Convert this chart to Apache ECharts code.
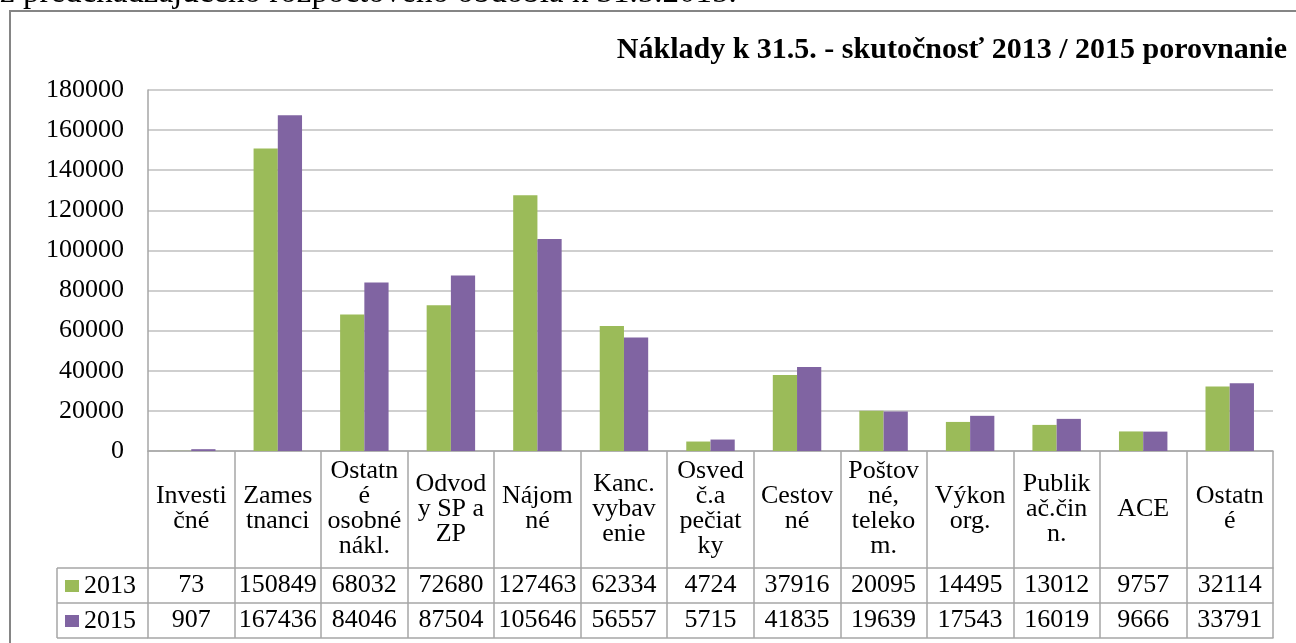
<!DOCTYPE html>
<html>
<head>
<meta charset="utf-8">
<title>Náklady k 31.5.</title>
<script src="https://cdn.jsdelivr.net/npm/echarts@6/dist/echarts.min.js"></script>
<style>
  html, body { margin: 0; padding: 0; background: #fff; }
  #costChart { width: 1296px; height: 643px; }
</style>
</head>
<body>
<div id="costChart"></div>
<script>
// categories as they are wrapped in the table header
var categories = [
  'Investi\nčné', 'Zames\ntnanci', 'Ostatn\né\nosobné\nnákl.', 'Odvod\ny SP a\nZP',
  'Nájom\nné', 'Kanc.\nvybav\nenie', 'Osved\nč.a\npečiat\nky', 'Cestov\nné',
  'Poštov\nné,\nteleko\nm.', 'Výkon\norg.', 'Publik\nač.čin\nn.', 'ACE', 'Ostatn\né'
];
var seriesNames = ['2013', '2015'];
var values2013 = [73, 150849, 68032, 72680, 127463, 62334, 4724, 37916, 20095, 14495, 13012, 9757, 32114];
var values2015 = [907, 167436, 84046, 87504, 105646, 56557, 5715, 41835, 19639, 17543, 16019, 9666, 33791];
// y axis ticks: 0 .. 180000 step 20000
var yMin = 0;
var yMax = 180000;
var yStep = 20000;

var titleText = 'Náklady k 31.5. - skutočnosť 2013 / 2015 porovnanie';
var docLine = 'z predchádzajúceho rozpočtového obdobia k 31.5.2015.';

var serif = "'Liberation Serif', 'Times New Roman', serif";
var lineColor = '#a6a6a6';
var colors = ['#9bbb59', '#8064a2'];

var chartDom = document.getElementById('costChart');
var myChart = echarts.init(chartDom);

// one category axis per table row, stacked under the plot with offset
function tableRow(offset, tickLen, labels) {
  return {
    type: 'category',
    data: categories,
    position: 'bottom',
    offset: offset,
    axisLine: { show: true, lineStyle: { color: lineColor, width: 1.5 } },
    axisTick: { show: tickLen > 0, length: tickLen, interval: 0, lineStyle: { color: lineColor, width: 1.5 } },
    axisLabel: labels ? {
      interval: 0,
      margin: labels.margin,
      verticalAlign: 'middle',
      fontFamily: serif,
      fontSize: 26,
      lineHeight: 25,
      color: '#000',
      formatter: labels.formatter
    } : { show: false },
    splitLine: { show: false }
  };
}

var option = {
  animation: false,
  textStyle: { fontFamily: serif },
  title: {
    text: titleText,
    right: 4,
    top: 30,
    textStyle: { fontFamily: serif, fontWeight: 'bold', fontSize: 30, color: '#000' }
  },
  legend: {
    orient: 'vertical',
    left: 65,
    top: 573,
    padding: 0,
    itemGap: 9,
    itemWidth: 14,
    itemHeight: 12,
    icon: 'rect',
    data: seriesNames,
    textStyle: { fontFamily: serif, fontSize: 26, lineHeight: 26, color: '#000' }
  },
  grid: {
    left: 148,
    right: 23,
    top: 90,
    bottom: 192,
    outerBoundsMode: 'none'
  },
  xAxis: [
    // header row with category names
    tableRow(0, 117, { margin: 58 }),
    // 2013 values
    tableRow(117, 35, { margin: 17.5, formatter: function (v, i) { return String(values2013[i]); } }),
    // 2015 values
    tableRow(152, 35, { margin: 17.5, formatter: function (v, i) { return String(values2015[i]); } }),
    // bottom border of the table
    tableRow(187, 0, null)
  ],
  yAxis: {
    type: 'value',
    min: yMin,
    max: yMax,
    interval: yStep,
    axisLine: { show: true, lineStyle: { color: lineColor, width: 1.5 } },
    axisTick: { show: false },
    axisLabel: {
      margin: 24, fontFamily: serif, fontSize: 26, color: '#000',
      formatter: function (v) { return String(v); }
    },
    splitLine: { lineStyle: { color: '#bfbfbf', width: 1.5 } }
  },
  series: [
    {
      name: seriesNames[0],
      type: 'bar',
      xAxisIndex: 0,
      data: values2013,
      barGap: '0%',
      barCategoryGap: '44%',
      itemStyle: { color: colors[0] }
    },
    {
      name: seriesNames[1],
      type: 'bar',
      xAxisIndex: 0,
      data: values2015,
      itemStyle: { color: colors[1] }
    }
  ],
  graphic: [
    // chart frame (runs off the page at right and bottom)
    { type: 'rect', silent: true, z: -1, shape: { x: 10, y: 11, width: 1400, height: 800 },
      style: { fill: 'none', stroke: '#858585', lineWidth: 2 } },
    // text line of the document above the chart, cut at the top
    { type: 'text', silent: true, left: 0, top: -23,
      style: { text: docLine, font: '33px ' + serif, fill: '#000' } },
    // legend column of the data table
    { type: 'line', silent: true, shape: { x1: 57, y1: 568, x2: 148, y2: 568 }, style: { stroke: lineColor, lineWidth: 1.5 } },
    { type: 'line', silent: true, shape: { x1: 57, y1: 603, x2: 148, y2: 603 }, style: { stroke: lineColor, lineWidth: 1.5 } },
    { type: 'line', silent: true, shape: { x1: 57, y1: 638, x2: 148, y2: 638 }, style: { stroke: lineColor, lineWidth: 1.5 } },
    { type: 'line', silent: true, shape: { x1: 57, y1: 568, x2: 57, y2: 638 }, style: { stroke: lineColor, lineWidth: 1.5 } }
  ]
};

option && myChart.setOption(option);
</script>
</body>
</html>
